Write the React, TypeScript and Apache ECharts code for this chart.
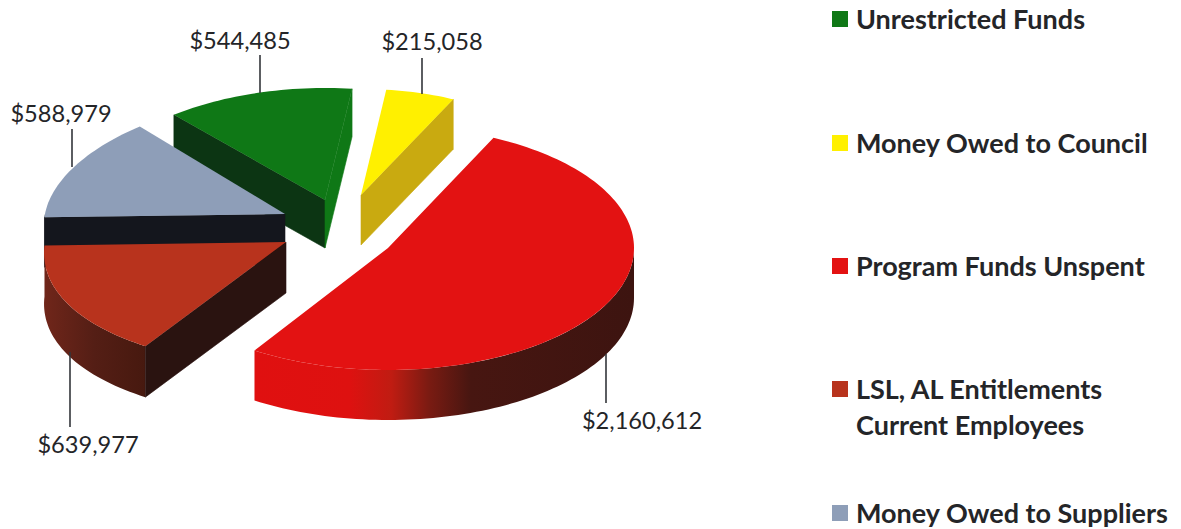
import React, { useEffect, useRef } from "react";
import * as echarts from "echarts";

// Balance sheet of funds held, in dollars, clockwise from the Unrestricted Funds wedge.
const categories = [
  ["Unrestricted Funds"],
  ["Money Owed to Council"],
  ["Program Funds Unspent"],
  ["LSL, AL Entitlements", "Current Employees"],
  ["Money Owed to Suppliers"],
];
const amounts = [544485, 215058, 2160612, 639977, 588979];

// Wedges are painted back to front, so the brown top covers the blue wedge's wall.
const paintOrder = [0, 1, 2, 4, 3];
const FIRST_ANGLE = -40.5;

const topColors = ["#0f7816", "#fff000", "#e31212", "#b8331d", "#8e9eb8"];
const startWallColors = ["#0c3513", "#000000", "#000000", "#2a1310", "#14161d"];
const endWallColors = ["#0f7816", "#c9aa10", "#000000", "#000000", "#000000"];
const arcWallStops = [
  [[0, "#000"], [1, "#000"]],
  [[0, "#000"], [1, "#000"]],
  [[0, "#e01010"], [0.25, "#de1110"], [0.36, "#c01c12"], [0.46, "#7a1b12"], [0.57, "#471611"], [1, "#3d1410"]],
  [[0, "#70261a"], [0.5, "#541e15"], [1, "#47190f"]],
  [[0, "#14161d"], [1, "#14161d"]],
];

// Projection of each exploded wedge: apex, ellipse radii, wall height, perspective.
const wedgeLayout = [
  { cx: 325, cy: 200, rx: 240, ry: 112, depth: 48, persp: 0.04 },
  { cx: 361, cy: 195, rx: 215, ry: 106, depth: 50, persp: 0 },
  { cx: 388, cy: 248, rx: 246, ry: 122, depth: 50, persp: 0 },
  { cx: 286, cy: 242, rx: 241, ry: 124, depth: 51, persp: 0.09 },
  { cx: 285, cy: 214, rx: 240, ry: 115, depth: 50, persp: 0.09 },
];

// Value label centre and its leader line.
const labelLayout = [
  { x: 240, y: 40, lx: 260, y1: 55, y2: 93 },
  { x: 432, y: 41, lx: 422, y1: 58, y2: 94 },
  { x: 642, y: 420, lx: 606, y1: 354, y2: 403 },
  { x: 88, y: 444, lx: 70, y1: 352, y2: 427 },
  { x: 61, y: 113, lx: 72, y1: 129, y2: 167 },
];

const legendTops = [18, 142, 265, 388, 512];
const LEGEND_LINE = 36;

const FONT = "Lato, Carlito, sans-serif";
const TEXT = "#242528";
const RAD = Math.PI / 180;

function money(v: number) {
  return "$" + v.toLocaleString("en-US");
}

function renderWedge(params: any, api: any) {
  const value = api.value(0);
  const i = api.value(1);
  const total = amounts.reduce((a, b) => a + b, 0);
  let before = 0;
  for (let k = 0; k < i; k++) before += amounts[k];
  const a0 = FIRST_ANGLE + (before / total) * 360;
  const a1 = a0 + (value / total) * 360;
  const g = wedgeLayout[i];

  const rim = (deg: number, drop = 0) => {
    const s = Math.sin(deg * RAD);
    const c = Math.cos(deg * RAD);
    return [g.cx + g.rx * s * (1 - g.persp * c), g.cy - g.ry * c + drop];
  };
  const sweep = (from: number, to: number, drop = 0) => {
    const n = Math.max(2, Math.ceil(Math.abs(to - from) / 1.5));
    const pts: number[][] = [];
    for (let k = 0; k <= n; k++) pts.push(rim(from + ((to - from) * k) / n, drop));
    return pts;
  };
  const wall = (deg: number, fill: string) => ({
    type: "polygon",
    shape: {
      points: [[g.cx, g.cy], rim(deg), rim(deg, g.depth), [g.cx, g.cy + g.depth]],
    },
    style: { fill, stroke: fill, lineWidth: 0.6 },
  });

  const children: any[] = [];

  // Outer curved wall: only the part turned towards the viewer.
  const from = Math.max(a0, 90);
  const to = Math.min(a1, 270);
  if (to > from) {
    children.push({
      type: "polygon",
      shape: { points: [...sweep(from, to), ...sweep(to, from, g.depth)] },
      style: {
        fill: new echarts.graphic.LinearGradient(
          0, 0, 1, 0,
          arcWallStops[i].map(([offset, color]) => ({ offset, color }))
        ),
      },
    });
  }
  // Radial walls, when their outward side faces the viewer.
  if (Math.cos((a0 - 90) * RAD) < 0) children.push(wall(a0, startWallColors[i]));
  if (Math.cos((a1 + 90) * RAD) < 0) children.push(wall(a1, endWallColors[i]));

  children.push({
    type: "polygon",
    shape: { points: [[g.cx, g.cy], ...sweep(a0, a1)] },
    style: { fill: topColors[i] },
  });

  const lab = labelLayout[i];
  children.push({
    type: "line",
    shape: { x1: lab.lx, y1: lab.y1, x2: lab.lx, y2: lab.y2 },
    style: { stroke: "#33353a", lineWidth: 1.6 },
  });
  children.push({
    type: "text",
    style: {
      text: money(value),
      x: lab.x,
      y: lab.y,
      align: "center",
      verticalAlign: "middle",
      fontFamily: FONT,
      fontSize: 23.6,
      fill: TEXT,
    },
  });
  return { type: "group", children };
}

function legendGraphics() {
  const out: any[] = [];
  categories.forEach((lines, i) => {
    out.push({
      type: "rect",
      shape: { x: 832, y: legendTops[i] - 7, width: 16, height: 16 },
      style: { fill: topColors[i] },
    });
    lines.forEach((line, k) => {
      out.push({
        type: "text",
        style: {
          text: line,
          x: 856,
          y: legendTops[i] + k * LEGEND_LINE,
          verticalAlign: "middle",
          fontFamily: FONT,
          fontWeight: "bold",
          fontSize: 27,
          fill: TEXT,
        },
      });
    });
  });
  return out;
}

export default function App() {
  const ref = useRef<HTMLDivElement>(null);
  useEffect(() => {
    const chart = echarts.init(ref.current!, null, { renderer: "svg" });
    chart.setOption({
      animation: false,
      backgroundColor: "#ffffff",
      graphic: legendGraphics(),
      series: [
        {
          type: "custom",
          coordinateSystem: "none",
          silent: true,
          renderItem: renderWedge,
          data: paintOrder.map((i) => [amounts[i], i]),
        },
      ],
    });
    return () => chart.dispose();
  }, []);
  return (
    <div
      ref={ref}
      style={{ position: "absolute", left: 0, top: 0, width: 1181, height: 529 }}
    />
  );
}
